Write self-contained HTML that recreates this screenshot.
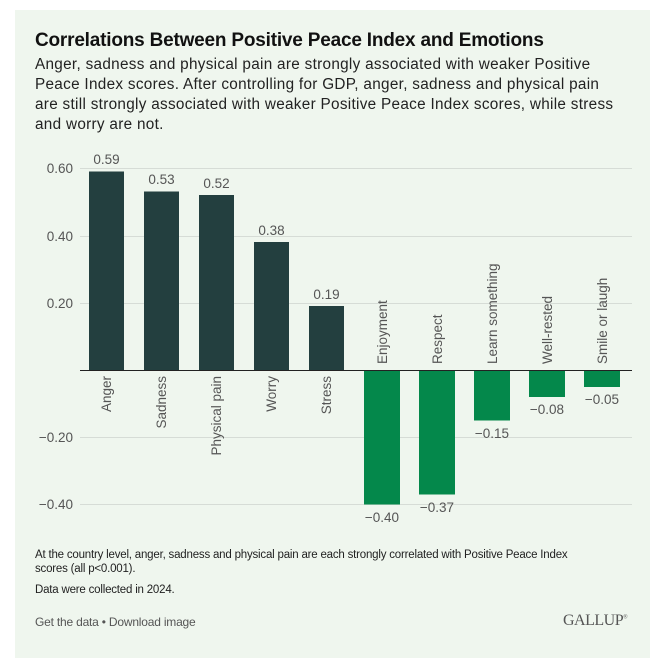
<!DOCTYPE html>
<html><head><style>
body{margin:0;width:666px;height:672px;background:#fff;font-family:"Liberation Sans",sans-serif;position:relative;overflow:hidden}
.card{position:absolute;left:15px;top:10px;width:635px;height:648px;background:#eff6ee}
.t{position:absolute;left:35px;top:30px;font-size:19px;font-weight:bold;color:#111;letter-spacing:-0.2px}
.s{position:absolute;left:35px;top:55px;width:587px;font-size:15.3px;line-height:20px;color:#222;letter-spacing:0.3px}
.n{position:absolute;left:35px;width:565px;font-size:11.5px;color:#222;line-height:14px;letter-spacing:-0.2px}
.g{position:absolute;left:35px;top:615px;font-size:12px;color:#555;letter-spacing:-0.2px}
.gal{position:absolute;left:563px;top:612px;font-family:"Liberation Serif",serif;font-size:16px;color:#555;letter-spacing:-0.5px}
</style></head><body>
<div class="card"></div>
<div class="t">Correlations Between Positive Peace Index and Emotions</div>
<div class="s">Anger, sadness and physical pain are strongly associated with weaker Positive Peace Index scores. After controlling for GDP, anger, sadness and physical pain are still strongly associated with weaker Positive Peace Index scores, while stress and worry are not.</div>
<svg style="position:absolute;left:0;top:0" width="666" height="672" font-family="Liberation Sans, sans-serif" font-size="13.5" fill="#555">
<g stroke="#d6dcd6" stroke-width="1">
<line x1="80" x2="632" y1="168.5" y2="168.5"/><line x1="80" x2="632" y1="236.5" y2="236.5"/><line x1="80" x2="632" y1="303.5" y2="303.5"/><line x1="80" x2="632" y1="437.5" y2="437.5"/><line x1="80" x2="632" y1="504.5" y2="504.5"/>
</g>
<g text-anchor="end" font-size="13.5"><text x="73" y="173">0.60</text><text x="73" y="241">0.40</text><text x="73" y="308">0.20</text><text x="73" y="442">−0.20</text><text x="73" y="509">−0.40</text></g>
<g fill="#233f3f"><rect x="89" y="171.5" width="35" height="198.5"/><rect x="144" y="191.5" width="35" height="178.5"/><rect x="199" y="195" width="35" height="175"/><rect x="254" y="242" width="35" height="128"/><rect x="309" y="306" width="35" height="64"/></g>
<g fill="#04884b"><rect x="364" y="370" width="36" height="134.5"/><rect x="419" y="370" width="36" height="124.5"/><rect x="474" y="370" width="36" height="50.5"/><rect x="529" y="370" width="36" height="27"/><rect x="584" y="370" width="36" height="17"/></g>
<line x1="80" x2="632" y1="370.5" y2="370.5" stroke="#222" stroke-width="1"/>
<g text-anchor="middle" font-size="13.5"><text x="106.5" y="164">0.59</text><text x="161.5" y="184">0.53</text><text x="216.5" y="188">0.52</text><text x="271.5" y="235">0.38</text><text x="326.5" y="299">0.19</text>
<text x="382" y="522">−0.40</text><text x="437" y="512">−0.37</text><text x="492" y="438">−0.15</text><text x="547" y="414">−0.08</text><text x="602" y="404">−0.05</text></g>
<g text-anchor="end"><text transform="translate(111,376) rotate(-90)">Anger</text><text transform="translate(166,376) rotate(-90)">Sadness</text><text transform="translate(221,376) rotate(-90)">Physical pain</text><text transform="translate(276,376) rotate(-90)">Worry</text><text transform="translate(331,376) rotate(-90)">Stress</text></g>
<g text-anchor="start"><text transform="translate(387,364) rotate(-90)">Enjoyment</text><text transform="translate(442,364) rotate(-90)">Respect</text><text transform="translate(497,364) rotate(-90)">Learn something</text><text transform="translate(552,364) rotate(-90)">Well-rested</text><text transform="translate(607,364) rotate(-90)">Smile or laugh</text></g>
</svg>
<div class="n" style="top:548px">At the country level, anger, sadness and physical pain are each strongly correlated with Positive Peace Index scores (all p&lt;0.001).</div>
<div class="n" style="top:583px">Data were collected in 2024.</div>
<div class="g">Get the data • Download image</div>
<div class="gal">GALLUP<sup style="font-size:6px">®</sup></div>
</body></html>
